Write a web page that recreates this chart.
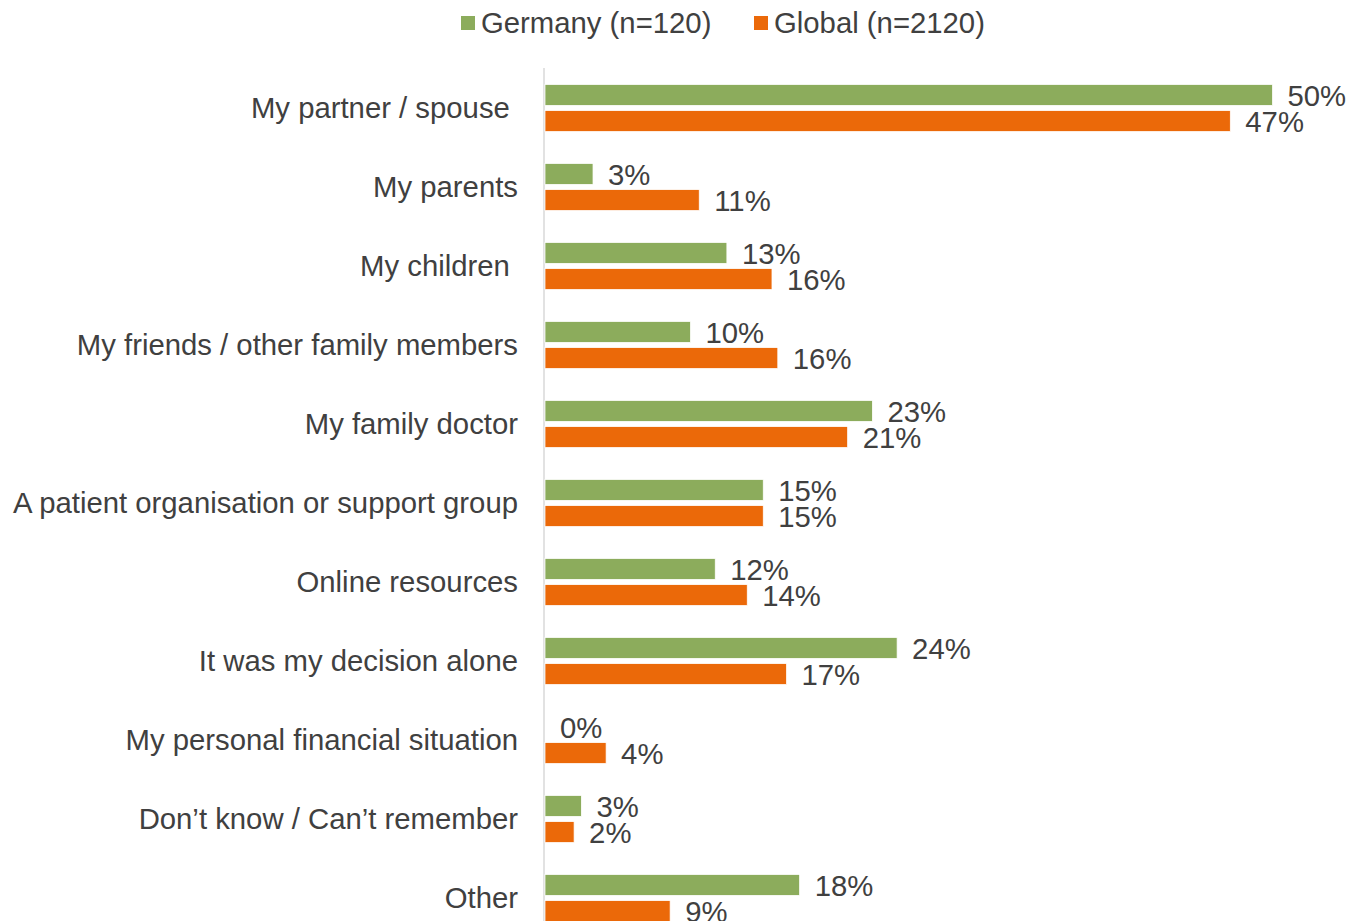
<!DOCTYPE html>
<html>
<head>
<meta charset="utf-8">
<script src="https://cdn.jsdelivr.net/npm/d3@7"></script>
<style>
  body { margin: 0; background: #fff; }
  svg { display: block; font-family: "Liberation Sans", Arial, sans-serif; }
  .cat { white-space: pre; }
</style>
</head>
<body>
<script>
const categories = [
  "My partner / spouse ",
  "My parents",
  "My children ",
  "My friends / other family members",
  "My family doctor",
  "A patient organisation or support group",
  "Online resources",
  "It was my decision alone",
  "My personal financial situation",
  "Don\u2019t know / Can\u2019t remember",
  "Other"
];

const seriesNames = ["Germany (n=120)", "Global (n=2120)"];
const germany = [50.0, 3.3, 12.5, 10.0, 22.5, 15.0, 11.7, 24.2, 0, 2.5, 17.5];
const global = [47.1, 10.6, 15.6, 16.0, 20.8, 15.0, 13.9, 16.6, 4.2, 2.0, 8.6];

const colors = ["#8cac5c", "#eb6909"];
const textColor = "#404040";
const fontSize = "29.3px";

const width = 1357,
  height = 921;

const svg = d3
  .select("body")
  .append("svg")
  .attr("width", width)
  .attr("height", height);

const rows = categories.map((c, i) => ({
  category: c,
  values: [germany[i], global[i]]
}));

const y = d3
  .scaleBand()
  .domain(categories)
  .range([68.5, 68.5 + 79 * categories.length])
  .paddingInner(0.405)
  .paddingOuter(0.2025);

const ySeries = d3
  .scaleBand()
  .domain(d3.range(seriesNames.length))
  .range([0, y.bandwidth()])
  .paddingInner(0.2);

const x = d3
  .scaleLinear()
  .domain([0, 50])
  .range([545, 1272.5]);

// category axis line
svg
  .append("line")
  .attr("x1", 544)
  .attr("x2", 544)
  .attr("y1", 68)
  .attr("y2", height)
  .attr("stroke", "#d9d9d9")
  .attr("stroke-width", 1.5);

const group = svg
  .selectAll("g.row")
  .data(rows)
  .enter()
  .append("g")
  .attr("class", "row")
  .attr("transform", d => `translate(0, ${y(d.category)})`);

group
  .append("text")
  .attr("class", "cat")
  .attr("x", 518)
  .attr("y", y.bandwidth() / 2)
  .attr("dy", "0.35em")
  .attr("text-anchor", "end")
  .attr("fill", textColor)
  .style("font-size", fontSize)
  .text(d => d.category);

const bar = group
  .selectAll("g.bar")
  .data(d => d.values.map((v, i) => ({ value: v, series: i })))
  .enter()
  .append("g")
  .attr("class", "bar");

bar
  .append("rect")
  .attr("x", x(0))
  .attr("y", d => ySeries(d.series))
  .attr("width", d => x(d.value) - x(0))
  .attr("height", ySeries.bandwidth())
  .attr("fill", d => colors[d.series])
  .attr("stroke", d => (d.value > 0 ? "#fff" : "none"))
  .attr("stroke-width", 0.75);

bar
  .append("text")
  .attr("x", d => x(d.value) + 15)
  .attr("y", d => ySeries(d.series) + ySeries.bandwidth() + 1)
  .attr("fill", textColor)
  .style("font-size", fontSize)
  .text(d => `${Math.round(d.value)}%`);

// legend
const legendX = [461, 754];
const legend = svg
  .selectAll("g.legend")
  .data(seriesNames)
  .enter()
  .append("g")
  .attr("class", "legend")
  .attr("transform", (d, i) => `translate(${legendX[i]}, 16)`);

legend
  .append("rect")
  .attr("width", 14)
  .attr("height", 14)
  .attr("fill", (d, i) => colors[i]);

legend
  .append("text")
  .attr("x", 20)
  .attr("y", 7)
  .attr("dy", "0.35em")
  .attr("fill", textColor)
  .style("font-size", fontSize)
  .text(d => d);
</script>
</body>
</html>
